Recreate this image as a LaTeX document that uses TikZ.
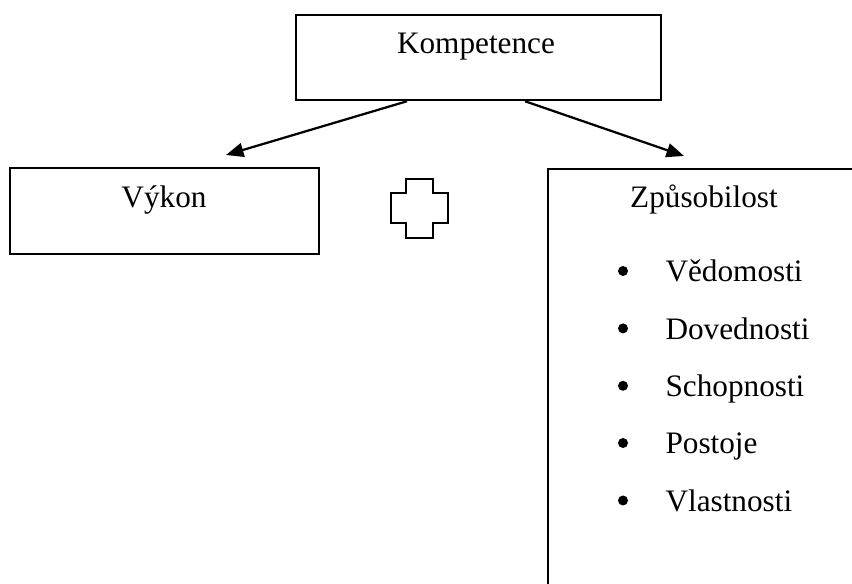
\documentclass[tikz,border=0pt]{standalone}
\usepackage{fontspec}
\setmainfont{Liberation Serif}
\usetikzlibrary{arrows.meta}
\begin{document}
\begin{tikzpicture}[x=0.4pt,y=-0.4pt,
  boxstyle/.style={draw=black,line width=0.9pt,rectangle,inner sep=0pt,anchor=north west},
  lbl/.style={font=\fontsize{12.5}{14}\selectfont,inner sep=0pt,anchor=base},
  itemlbl/.style={font=\fontsize{12.5}{14}\selectfont,inner sep=0pt,anchor=base west},
  arr/.style={line width=0.9pt,-{Triangle[length=7pt,width=5.6pt]}},
  bul/.style={fill=black,circle,inner sep=0pt,minimum size=4pt}]
\useasboundingbox (0,0) rectangle (852,584);
\begin{scope}
\clip (0,0) rectangle (852,584);
% boxes
\node[boxstyle,minimum width=146pt,minimum height=34pt] (komp) at (295,14) {};
\node[boxstyle,minimum width=123.6pt,minimum height=34.4pt] (vykon) at (9,167) {};
\node[boxstyle,minimum width=126pt,minimum height=180pt] (zpus) at (547,168) {};
% labels
\node[lbl] (tkomp) at (476,54) {Kompetence};
\node[lbl] (tvykon) at (164,207.5) {Výkon};
\node[lbl] (tzpus) at (704,207.5) {Způsobilost};
% plus sign
\draw[line width=0.55pt] (406,179) -- (433,179) -- (433,193) -- (448,193) -- (448,223) -- (433,223) -- (433,238) -- (406,238) -- (406,223) -- (391,223) -- (391,193) -- (406,193) -- cycle;
% list
\foreach \t/\yy [count=\i] in {Vědomosti/282,Dovednosti/339.4,Schopnosti/396.8,Postoje/454,Vlastnosti/511.5}{
  \node[bul] (b\i) at (623,\yy-11) {};
  \node[itemlbl] (it\i) at (665,\yy) {\t};
}
% arrows
\coordinate (la) at (226,155);
\coordinate (ra) at (684,156);
\draw[arr] ([xshift=44.8pt]komp.south west) -- (la);
\draw[arr] ([xshift=92pt]komp.south west) -- (ra);
\end{scope}
\end{tikzpicture}
\end{document}
